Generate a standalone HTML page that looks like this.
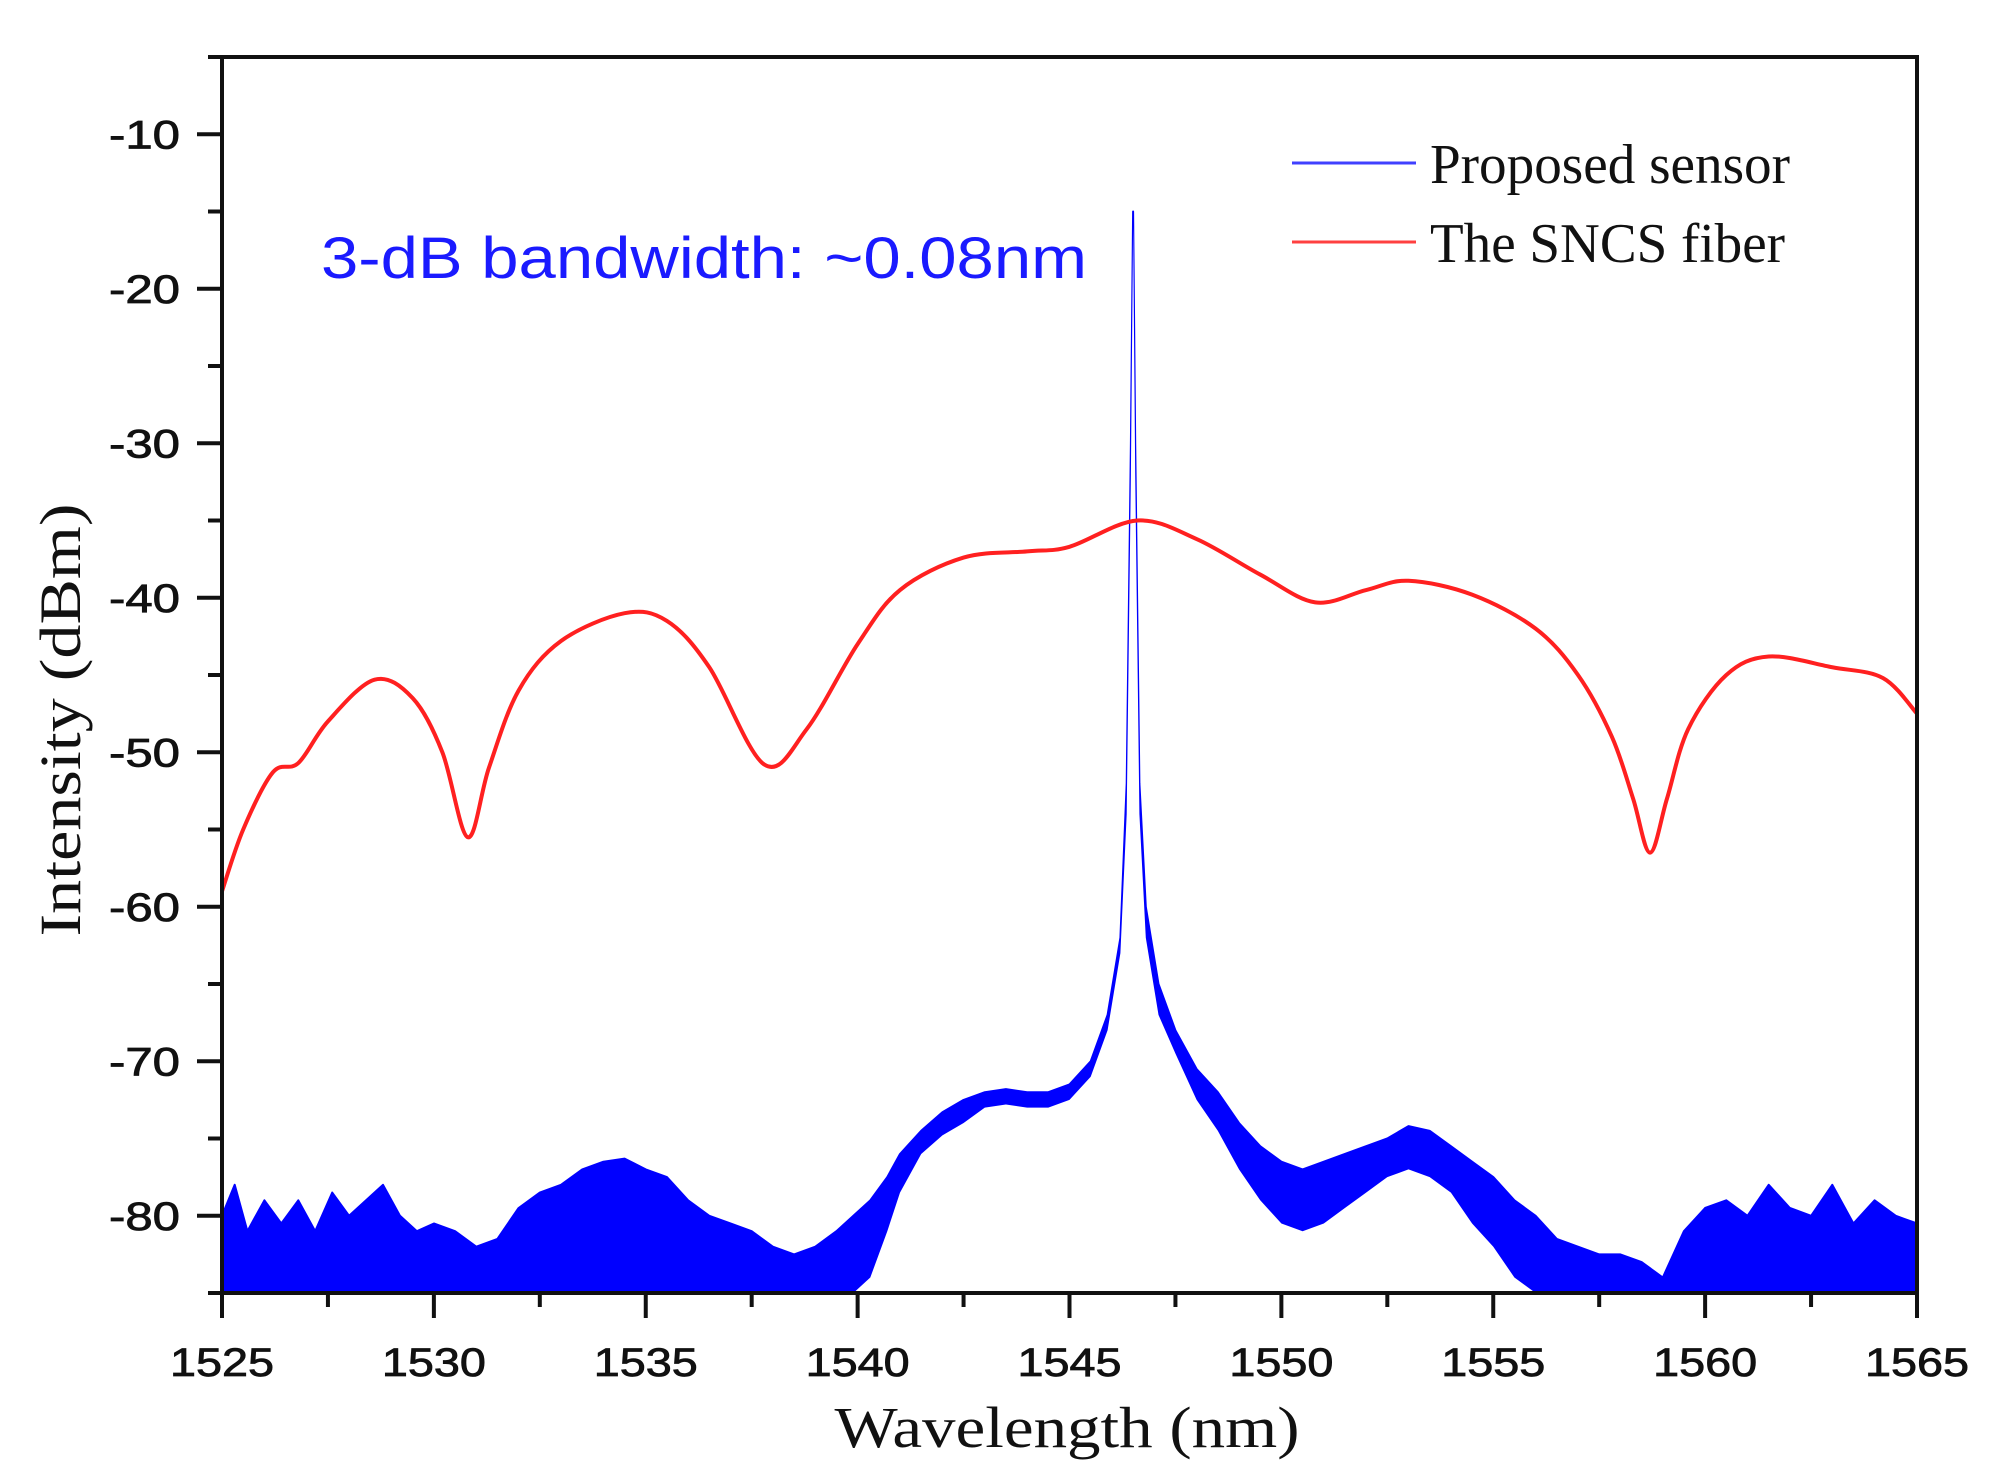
<!DOCTYPE html>
<html><head><meta charset="utf-8"><style>
html,body{margin:0;padding:0;background:#fff;}
svg{display:block;}
</style></head><body>
<svg id="chart" xmlns="http://www.w3.org/2000/svg" width="1998" height="1483" viewBox="0 0 1998 1483">
<g id="plot"></g>
<g id="axes"></g>
<text x="321" y="278" font-family="Liberation Sans, sans-serif" font-size="58" fill="#1a1aff" textLength="766" lengthAdjust="spacingAndGlyphs">3-dB bandwidth: ~0.08nm</text>
<g>
<line x1="1292" y1="163" x2="1416" y2="163" stroke="#4040ff" stroke-width="3"/>
<text x="1430" y="183" font-family="Liberation Serif, serif" font-size="56" fill="#111" textLength="360" lengthAdjust="spacingAndGlyphs">Proposed sensor</text>
<line x1="1292" y1="242" x2="1416" y2="242" stroke="#ff4040" stroke-width="3"/>
<text x="1430" y="262" font-family="Liberation Serif, serif" font-size="56" fill="#111" textLength="355" lengthAdjust="spacingAndGlyphs">The SNCS fiber</text>
</g>
<text x="1067" y="1447" text-anchor="middle" font-family="Liberation Serif, serif" font-size="58" fill="#111" textLength="465" lengthAdjust="spacingAndGlyphs">Wavelength (nm)</text>
<text transform="translate(80,720) rotate(-90)" text-anchor="middle" font-family="Liberation Serif, serif" font-size="58" fill="#111" textLength="433" lengthAdjust="spacingAndGlyphs">Intensity (dBm)</text>
</svg>
<script>
const xTicks = [1525,1530,1535,1540,1545,1550,1555,1560,1565];
const yTicks = [-10,-20,-30,-40,-50,-60,-70,-80];
const redWl = [1525,1525.5,1526.2,1526.8,1527.5,1528.6,1529.5,1530.2,1530.8,1531.3,1532,1533,1534.5,1535.5,1536.5,1537.8,1538.8,1540,1541,1542.5,1544,1545,1546.6,1548,1549.5,1550.8,1552,1553,1554.5,1556,1557,1557.8,1558.3,1558.7,1559.1,1559.6,1560.5,1561.5,1563,1564.2,1565];
const redDb = [-59,-55,-51.3,-50.7,-48,-45.3,-46.5,-50,-55.5,-51,-46,-42.8,-41,-41.5,-44.5,-50.8,-48.5,-43,-39.5,-37.4,-37,-36.7,-35,-36.2,-38.5,-40.3,-39.5,-38.9,-39.8,-42,-45,-49,-53,-56.5,-53,-48.5,-45,-43.8,-44.5,-45.2,-47.5];
const blueWl = [1525,1525.3,1525.6,1526,1526.4,1526.8,1527.2,1527.6,1528,1528.4,1528.8,1529.2,1529.6,1530,
1530.5,1531,1531.5,1532,1532.5,1533,1533.5,1534,1534.5,1535,1535.5,1536,1536.5,1537,1537.5,1538,1538.5,1539,1539.5,1539.9,
1540.3,1540.7,1541,1541.5,1542,1542.5,1543,1543.5,1544,1544.5,1545,1545.5,1545.9,1546.2,1546.35,1546.45,1546.5,1546.55,1546.65,1546.8,1547.1,1547.5,1548,
1548.5,1549,1549.5,1550,1550.5,1551,1551.5,1552,1552.5,1553,1553.5,1554,1554.5,1555,1555.5,1556,1556.5,1557,1557.5,1558,
1558.5,1559,1559.5,1560,1560.5,1561,1561.5,1562,1562.5,1563,1563.5,1564,1564.5,1565];
const blueHi = [-80,-78,-81,-79,-80.5,-79,-81,-78.5,-80,-79,-78,-80,-81,-80.5,
-81,-82,-81.5,-79.5,-78.5,-78,-77,-76.5,-76.3,-77,-77.5,-79,-80,-80.5,-81,-82,-82.5,-82,-81,-80,
-79,-77.5,-76,-74.5,-73.3,-72.5,-72,-71.8,-72,-72,-71.5,-70,-67,-62,-52,-30,-15,-30,-52,-60,-65,-68,-70.5,
-72,-74,-75.5,-76.5,-77,-76.5,-76,-75.5,-75,-74.2,-74.5,-75.5,-76.5,-77.5,-79,-80,-81.5,-82,-82.5,-82.5,
-83,-84,-81,-79.5,-79,-80,-78,-79.5,-80,-78,-80.5,-79,-80,-80.5];
const blueLo = [-85,-85,-85,-85,-85,-85,-85,-85,-85,-85,-85,-85,-85,-85,
-85,-85,-85,-85,-85,-85,-85,-85,-85,-85,-85,-85,-85,-85,-85,-85,-85,-85,-85,-85,
-84,-81,-78.5,-76,-74.8,-74,-73,-72.8,-73,-73,-72.5,-71,-68,-63,-54,-32,-16,-32,-54,-62,-67,-69.5,-72.5,
-74.5,-77,-79,-80.5,-81,-80.5,-79.5,-78.5,-77.5,-77,-77.5,-78.5,-80.5,-82,-84,-85,-85,-85,-85,-85,
-85,-85,-85,-85,-85,-85,-85,-85,-85,-85,-85,-85,-85,-85];

const NS='http://www.w3.org/2000/svg';
const L=222,R=1917,T=57,B=1293, X0=1525,X1=1565,Y0=-85,Y1=-5;
const sx=v=>L+(v-X0)/(X1-X0)*(R-L);
const sy=v=>B-(v-Y0)/(Y1-Y0)*(B-T);
function mk(tag,attrs,parent){const e=document.createElementNS(NS,tag);for(const k in attrs)e.setAttribute(k,attrs[k]);parent.appendChild(e);return e;}
const plot=document.getElementById('plot'), axes=document.getElementById('axes');

function areaPath(vals){
  let p='M'+sx(blueWl[0]).toFixed(1)+','+sy(Y0).toFixed(1);
  blueWl.forEach((w,i)=>{p+='L'+sx(w).toFixed(1)+','+sy(Math.max(vals[i],Y0)).toFixed(1);});
  p+='L'+sx(blueWl[blueWl.length-1]).toFixed(1)+','+sy(Y0).toFixed(1)+'Z';
  return p;
}
const band=mk('path',{d:areaPath(blueHi),fill:'#0000ff',stroke:'#0000ff','stroke-width':2,'stroke-linejoin':'round'},plot);


const under=mk('path',{d:areaPath(blueLo),fill:'#ffffff',stroke:'none'},plot);



// red smooth curve (Catmull-Rom)
const pts=redWl.map((w,i)=>[sx(w),sy(redDb[i])]);
let rd='M'+pts[0][0]+','+pts[0][1];
for(let i=0;i<pts.length-1;i++){const p0=pts[Math.max(0,i-1)],p1=pts[i],p2=pts[i+1],p3=pts[Math.min(pts.length-1,i+2)];
rd+='C'+(p1[0]+(p2[0]-p0[0])/6)+','+(p1[1]+(p2[1]-p0[1])/6)+' '+(p2[0]-(p3[0]-p1[0])/6)+','+(p2[1]-(p3[1]-p1[1])/6)+' '+p2[0]+','+p2[1];}
const red=mk('path',{d:rd,fill:'none',stroke:'#ff2020','stroke-width':4},plot);



// frame
const fr=mk('rect',{x:L,y:T,width:R-L,height:B-T,fill:'none',stroke:'#111','stroke-width':4},axes);



// x ticks
for(let v=X0;v<=X1;v+=2.5){const major=(v%5===0);const t=mk('line',{x1:sx(v),x2:sx(v),y1:B,y2:B+(major?25:14),stroke:'#111','stroke-width':4},axes);

}
xTicks.forEach(v=>{const t=mk('text',{x:sx(v),y:1376,'text-anchor':'middle','font-family':'Liberation Sans, sans-serif','font-size':40,fill:'#111',stroke:'#111','stroke-width':0.8,textLength:104,lengthAdjust:'spacingAndGlyphs'},axes);t.textContent=v;

});
// y ticks
for(let v=Y0;v<=Y1;v+=5){const major=(v%10===0);const t=mk('line',{x1:L-(major?25:14),x2:L,y1:sy(v),y2:sy(v),stroke:'#111','stroke-width':4},axes);

}
yTicks.forEach(v=>{const t=mk('text',{x:180,y:sy(v)+14,'text-anchor':'end','font-family':'Liberation Sans, sans-serif','font-size':40,fill:'#111',stroke:'#111','stroke-width':0.8,textLength:71,lengthAdjust:'spacingAndGlyphs'},axes);t.textContent=v;

});
</script>
</body></html>
